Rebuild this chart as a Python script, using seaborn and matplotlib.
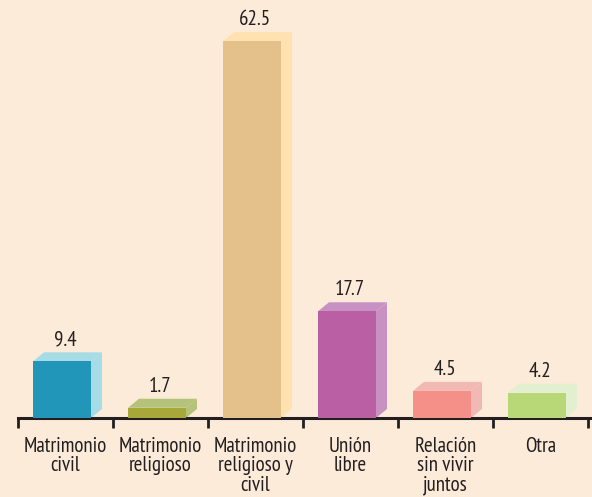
import matplotlib
matplotlib.use("Agg")
import matplotlib.pyplot as plt
from matplotlib.patches import Polygon
import seaborn as sns
import pandas as pd

categories = ["Matrimonio\ncivil", "Matrimonio\nreligioso", "Matrimonio\nreligioso y\ncivil",
              "Unión\nlibre", "Relación\nsin vivir\njuntos", "Otra"]
values = [9.4, 1.7, 62.5, 17.7, 4.5, 4.2]
front_colors = ["#2196B8", "#A8A83A", "#E4C08A", "#BA5FA4", "#F49088", "#B8D878"]
side_colors = ["#A6DCE6", "#B5C27A", "#FFE2B0", "#C891C4", "#F2B8B4", "#E2F0D0"]
top_colors = ["#A6DCE6", "#B5C27A", "#FFE2B0", "#C891C4", "#F2B8B4", "#E2F0D0"]

bg = "#FDEBDA"
ink = "#231F20"

sns.set_style("white")
plt.rcParams["font.family"] = ["PT Sans Narrow", "Fira Sans Condensed", "DejaVu Sans"]

df = pd.DataFrame({"cat": categories, "val": values})

fig = plt.figure(figsize=(5.92, 4.97), dpi=100, facecolor=bg)
ax = fig.add_axes([18 / 592, 79 / 497, 574 / 592, 418 / 497])
ax.set_facecolor(bg)

sns.barplot(data=df, x="cat", y="val", hue="cat", palette=front_colors,
            legend=False, width=58 / 95, saturation=1, ax=ax)

ax.set_xlim(-0.5, -0.5 + 574 / 95)
ax.set_ylim(0, 418 / 6.03)

dx = 11 / 95          # depth in category units
dy = 9 / 6.03         # depth in value units
shift = -3.5 / 95     # front face sits slightly left of the slot centre

for i, p in enumerate(ax.patches):
    p.set_x(p.get_x() + shift)
    p.set_edgecolor("none")
    p.set_zorder(3)
    x0 = p.get_x()
    x1 = x0 + p.get_width()
    h = p.get_height()
    side = Polygon([(x1, 0), (x1 + dx, dy), (x1 + dx, h + dy), (x1, h)],
                   closed=True, facecolor=side_colors[i], edgecolor="none", zorder=2)
    top = Polygon([(x0, h), (x0 + dx, h + dy), (x1 + dx, h + dy), (x1, h)],
                  closed=True, facecolor=top_colors[i], edgecolor="none", zorder=2)
    ax.add_patch(side)
    ax.add_patch(top)
    ax.annotate(f"{values[i]}", xy=((x0 + x1) / 2 + 3 / 95, h + dy), xytext=(0, 2),
                textcoords="offset points", ha="center", va="bottom",
                fontsize=15, color=ink)

sns.despine(ax=ax, left=True)
ax.spines["bottom"].set_linewidth(2.2)
ax.spines["bottom"].set_color(ink)
ax.set_yticks([])
ax.set_xlabel("")
ax.set_ylabel("")

# category labels between boundary ticks
ax.set_xticks([i - 0.5 for i in range(len(categories) + 1)])
ax.set_xticklabels([])
ax.tick_params(axis="x", direction="out", length=7, width=2, color=ink, bottom=True)
for i, c in enumerate(categories):
    ax.text(i, -18.5 / 6.03, c, ha="center", va="top", fontsize=15, color=ink,
            linespacing=1.04)

fig.savefig("out.png", dpi=100, facecolor=bg)
